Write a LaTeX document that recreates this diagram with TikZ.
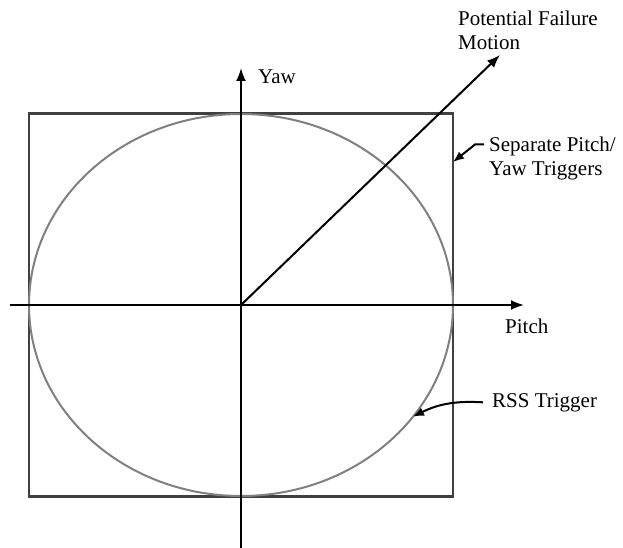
\documentclass[tikz,border=0pt]{standalone}
\usepackage{fontspec}
\setmainfont{Liberation Serif}
\usepackage{tikz}
\usetikzlibrary{positioning}
\usetikzlibrary{arrows.meta,calc,shapes.geometric}
\tikzset{line/.style={draw, line width=2pt, -{Latex[length=13pt,width=10pt]}}}
\tikzset{leader/.style={draw, line width=2pt, -{Latex[length=11pt,width=9pt]}}}

\begin{document}
\begin{tikzpicture}[x=1pt, y=-1pt]
\tikzstyle{label} = [inner sep=0pt, font=\fontsize{21}{24}\selectfont, align=left]
\tikzstyle{trigbox} = [rectangle, draw=black!75, line width=2.4pt, minimum width=424pt, minimum height=383pt, inner sep=0pt, outer sep=0pt]
\tikzstyle{rssell} = [ellipse, draw=black!50, line width=2pt, minimum width=424pt, minimum height=382pt, inner sep=0pt, outer sep=0pt]

\useasboundingbox (0,0) rectangle (623,548);

% triggers
    \coordinate (o) at (241,305);
    \node [trigbox] (sep) at (o) {};
    \node [rssell] (rss) at (o) {};
% axes
    \coordinate (xl) at (10,305);
    \coordinate (xr) at (524,305);
    \coordinate (yb) at (241,548);
    \coordinate (yt) at (241,68);
    \coordinate (fm) at (500,55);
    \path [line] (xl) -- (xr);
    \path [line] (yb) -- (yt);
    \path [line] (o) -- (fm);
% labels
    \node [label, anchor=base west] (yaw) at (258,84) {Yaw};
    \node [label, anchor=base west] (pitch) at (505,333) {Pitch};
    \node [label, anchor=north west] (motion) at (458,10.5) {Potential Failure\\Motion};
    \node [label, anchor=north west] (septxt) at (489,136.5) {Separate Pitch/\\Yaw Triggers};
    \node [label, anchor=base west] (rsstxt) at (492,407) {RSS Trigger};
% leaders
    \path [leader] ([xshift=-5pt,yshift=-8pt]septxt.north west) -- ++(-9,0) -- (sep.34);
    \path [leader] ([xshift=-9pt]rsstxt.west) to[bend right=15] (rss.-33);
\end{tikzpicture}
\end{document}
